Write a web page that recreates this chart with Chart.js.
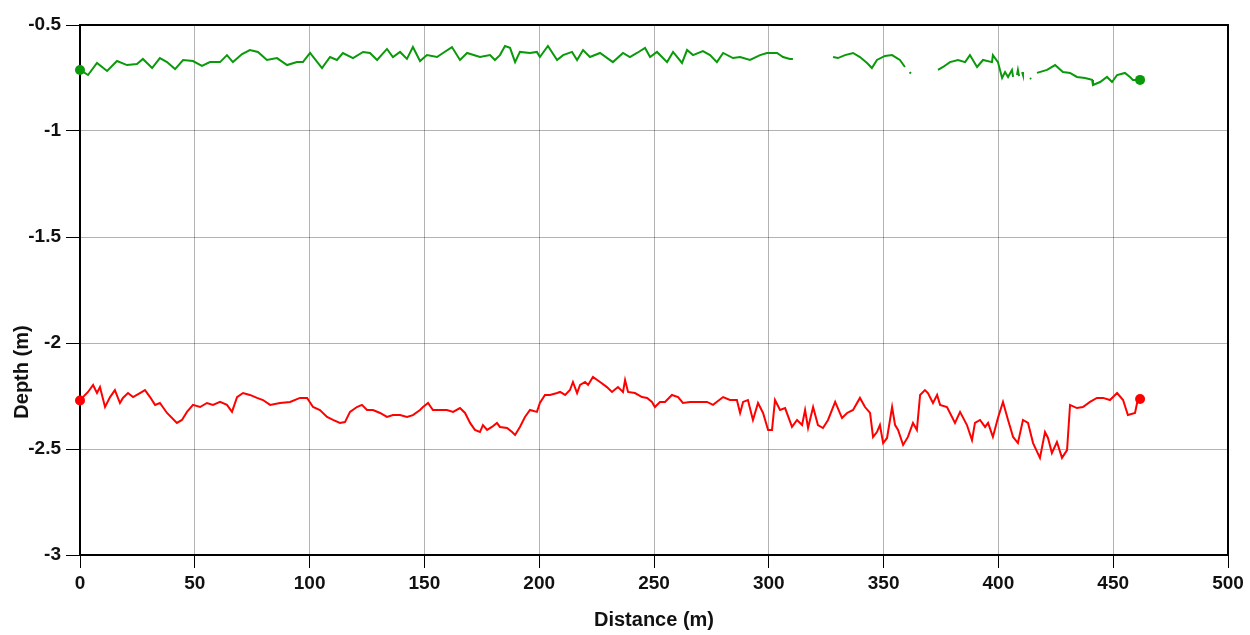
<!DOCTYPE html>
<html>
<head>
<meta charset="utf-8">
<script src="https://cdn.jsdelivr.net/npm/chart.js@4.4.1/dist/chart.umd.min.js"></script>
<style>
  html, body { margin: 0; padding: 0; background: #fff; }
  #wrap { width: 1250px; height: 635px; }
</style>
</head>
<body>
<div id="wrap"><canvas id="depthChart" width="1250" height="635"></canvas></div>
<script>
// axis ticks
const xTicks = [0, 50, 100, 150, 200, 250, 300, 350, 400, 450, 500];
const yTicks = [-3, -2.5, -2, -1.5, -1, -0.5];

// green profile (null = no data)
const greenDist = [0, 3.5, 7.4, 11.8, 16.1, 20.5, 24.8, 27.4, 31.4, 34.8, 37.9, 41.4, 44.9, 49.2, 53.1, 56.6, 61.0, 64.0, 66.6, 70.6,
  74.0, 77.5, 81.4, 85.8, 90.2, 94.5, 97.1, 100.2, 105.4, 108.9, 111.9, 114.5, 118.9, 123.3, 126.3, 129.4, 133.7, 136.3, 139.4, 142.4,
  145.0, 148.1, 151.1, 155.5, 158.1, 162.0, 165.5, 168.6, 174.2, 178.6, 180.7, 182.9, 185.1, 187.3, 189.5, 191.6, 196.0, 199.0, 200.3, 203.8,
  207.8, 210.4, 214.3, 216.5, 219.1, 222.1, 226.5, 232.1, 236.5, 239.5, 242.6, 246.1, 248.3, 251.3, 255.7, 258.3, 262.2, 264.4, 267.0, 271.3,
  274.4, 277.4, 280.1, 284.4, 287.5, 291.8, 296.2, 299.2, 303.6, 306.2, 309.2, 310.5, 318,
  328.0, 330.1, 333.2, 336.7, 339.7, 342.8, 344.9, 347.1, 350.6, 353.7, 355.8, 357.1, 359.3, 360.3,
  361.3, 361.9, 368,
  373.7, 375.9, 378.9, 382.4, 385.5, 387.6, 390.7, 393.3, 397.2, 397.6, 399.8, 401.6, 402.9, 404.2, 405.9, 406.4, 407.2,
  408.1, 408.5, 409.0, 409.6,
  410.3, 410.7, 412,
  413.8, 414.2, 414.6,
  415.1, 415.5, 416.1,
  416.8, 421.2, 424.7, 428.1, 431.2, 434.2, 437.7, 440.8, 441.2, 444.3, 447.3, 449.5, 451.7, 455.1, 457.3, 458.6, 461.7];
const greenDepth = [-0.712, -0.736, -0.679, -0.717, -0.670, -0.689, -0.684, -0.660, -0.703, -0.656, -0.675, -0.708, -0.665, -0.670, -0.693, -0.675, -0.675, -0.642, -0.675, -0.637,
  -0.618, -0.627, -0.665, -0.656, -0.689, -0.675, -0.675, -0.632, -0.703, -0.651, -0.665, -0.632, -0.656, -0.627, -0.632, -0.665, -0.613, -0.651, -0.627, -0.660,
  -0.604, -0.670, -0.642, -0.651, -0.632, -0.604, -0.665, -0.632, -0.651, -0.642, -0.665, -0.642, -0.599, -0.608, -0.675, -0.627, -0.632, -0.627, -0.651, -0.599,
  -0.665, -0.642, -0.627, -0.665, -0.618, -0.651, -0.632, -0.675, -0.632, -0.651, -0.632, -0.608, -0.651, -0.627, -0.675, -0.627, -0.679, -0.618, -0.642, -0.623,
  -0.642, -0.675, -0.632, -0.656, -0.651, -0.665, -0.642, -0.632, -0.632, -0.651, -0.660, -0.660, null,
  -0.651, -0.656, -0.642, -0.632, -0.651, -0.679, -0.703, -0.665, -0.646, -0.642, -0.656, -0.665, -0.698, null,
  -0.722, -0.729, null,
  -0.712, -0.698, -0.675, -0.665, -0.675, -0.642, -0.698, -0.665, -0.675, -0.642, -0.675, -0.750, -0.722, -0.745, -0.712, -0.745, null,
  -0.736, -0.712, -0.741, null,
  -0.722, -0.736, null,
  -0.750, -0.755, null,
  -0.774, -0.774, null,
  -0.726, -0.712, -0.689, -0.722, -0.726, -0.745, -0.750, -0.759, -0.783, -0.769, -0.745, -0.769, -0.736, -0.726, -0.745, -0.759, -0.759];

// red profile
const redDist = [0, 2.2, 3.5, 5.7, 7.4, 8.7, 10.9, 13.1, 15.2, 17.4, 18.7, 20.9, 23.1, 26.1, 28.3, 30.5, 32.7, 34.8, 37.9, 42.2,
  44.4, 46.6, 49.2, 52.3, 55.3, 57.9, 61.0, 64.0, 66.2, 68.4, 71.0, 74.0, 77.1, 79.7, 82.8, 87.1, 91.5, 95.8, 98.9, 101.5,
  104.5, 107.6, 110.2, 113.2, 115.4, 117.6, 120.6, 122.8, 125.0, 127.6, 130.7, 133.7, 136.3, 139.4, 142.4, 145.0, 148.1, 149.4, 151.6, 153.7,
  156.8, 159.8, 162.5, 165.5, 167.7, 169.9, 172.0, 174.2, 175.5, 177.3, 179.4, 181.6, 182.9, 186.0, 188.2, 189.5, 191.6, 193.8, 196.0, 199.0,
  200.3, 202.5, 204.7, 207.8, 209.1, 211.3, 213.4, 214.7, 216.5, 217.8, 220.0, 221.3, 223.4, 226.5, 229.5, 231.7, 234.3, 236.5, 237.4, 238.7,
  241.7, 244.8, 247.0, 249.1, 250.4, 252.6, 254.8, 257.8, 260.5, 262.6, 265.7, 268.7, 273.1, 275.7, 280.1, 283.1, 286.1, 287.5, 288.8, 290.9,
  293.1, 295.3, 297.5, 299.7, 301.4, 302.7, 304.9, 307.1, 310.1, 312.3, 314.5, 315.8, 317.1, 319.3, 321.4, 323.6, 325.8, 328.9, 331.9, 334.1,
  336.7, 339.7, 341.9, 344.1, 345.4, 347.1, 348.4, 349.8, 351.5, 353.7, 355.0, 356.3, 358.5, 360.6, 362.8, 364.5, 365.9, 368.0, 369.3, 371.5,
  373.3, 374.6, 377.6, 379.8, 381.1, 383.3, 386.3, 388.5, 389.8, 392.0, 394.2, 395.5, 397.6, 399.8, 402.0, 404.2, 406.4, 408.5, 410.7, 412.9,
  415.1, 418.1, 420.3, 421.6, 423.3, 425.5, 427.7, 429.9, 431.2, 434.2, 436.8, 439.9, 442.9, 445.6, 448.6, 451.7, 454.3, 456.4, 459.5, 460.4, 461.7];
const redDepth = [-2.271, -2.245, -2.231, -2.198, -2.236, -2.208, -2.302, -2.255, -2.222, -2.283, -2.259, -2.236, -2.255, -2.236, -2.222, -2.255, -2.292, -2.283, -2.330, -2.377,
  -2.363, -2.325, -2.292, -2.302, -2.283, -2.292, -2.278, -2.292, -2.325, -2.255, -2.236, -2.245, -2.259, -2.269, -2.292, -2.283, -2.278, -2.259, -2.259, -2.302,
  -2.316, -2.349, -2.363, -2.377, -2.373, -2.325, -2.302, -2.292, -2.316, -2.316, -2.330, -2.349, -2.340, -2.340, -2.349, -2.340, -2.316, -2.302, -2.283, -2.316,
  -2.316, -2.316, -2.325, -2.307, -2.330, -2.377, -2.410, -2.420, -2.387, -2.410, -2.396, -2.377, -2.396, -2.401, -2.420, -2.434, -2.396, -2.349, -2.316, -2.325,
  -2.283, -2.245, -2.245, -2.236, -2.231, -2.245, -2.222, -2.184, -2.236, -2.198, -2.184, -2.198, -2.160, -2.184, -2.208, -2.231, -2.208, -2.231, -2.175, -2.231,
  -2.236, -2.255, -2.259, -2.278, -2.302, -2.278, -2.278, -2.245, -2.255, -2.283, -2.278, -2.278, -2.278, -2.292, -2.255, -2.269, -2.269, -2.330, -2.278, -2.269,
  -2.363, -2.283, -2.330, -2.410, -2.410, -2.269, -2.316, -2.307, -2.396, -2.363, -2.387, -2.316, -2.401, -2.302, -2.387, -2.401, -2.363, -2.278, -2.354, -2.330,
  -2.316, -2.259, -2.302, -2.330, -2.443, -2.420, -2.387, -2.472, -2.448, -2.302, -2.387, -2.410, -2.481, -2.443, -2.377, -2.410, -2.245, -2.222, -2.236, -2.283,
  -2.245, -2.292, -2.302, -2.349, -2.377, -2.325, -2.387, -2.458, -2.377, -2.363, -2.396, -2.377, -2.443, -2.354, -2.278, -2.363, -2.443, -2.472, -2.363, -2.377,
  -2.472, -2.542, -2.420, -2.448, -2.519, -2.467, -2.542, -2.505, -2.292, -2.307, -2.302, -2.278, -2.259, -2.259, -2.269, -2.236, -2.269, -2.340, -2.330, -2.283, -2.264];

const toPoints = (xs, ys) => xs.map((x, i) => ({ x: x, y: ys[i] }));

// dot only on first and last sample
const endDots = (n) => (ctx) => (ctx.dataIndex === 0 || ctx.dataIndex === n - 1) ? 5 : 0;

const fontFamily = '"Liberation Sans", Arial, sans-serif';

// frame around plot + rotated y title
const framePlugin = {
  id: 'frame',
  beforeDatasetsDraw(chart) {
    const { ctx, chartArea: a } = chart;
    ctx.save();
    ctx.strokeStyle = '#000';
    ctx.lineWidth = 2;
    ctx.strokeRect(a.left, a.top, a.right - a.left, a.bottom - a.top);
    ctx.restore();
  },
  afterDraw(chart) {
    const ctx = chart.ctx;
    ctx.save();
    ctx.translate(22, 372);
    ctx.rotate(-Math.PI / 2);
    ctx.font = 'bold 20px ' + fontFamily;
    ctx.fillStyle = '#111';
    ctx.textAlign = 'center';
    ctx.textBaseline = 'middle';
    ctx.fillText('Depth (m)', 0, 0);
    ctx.restore();
  }
};

const ctx = document.getElementById('depthChart').getContext('2d');

new Chart(ctx, {
  type: 'line',
  data: {
    datasets: [
      {
        label: 'Upper',
        data: toPoints(greenDist, greenDepth),
        borderColor: '#0a990a',
        backgroundColor: '#0a990a',
        borderWidth: 2,
        pointRadius: endDots(greenDist.length),
        pointBorderWidth: 0,
        spanGaps: false,
        clip: false,
        tension: 0
      },
      {
        label: 'Lower',
        data: toPoints(redDist, redDepth),
        borderColor: '#ff0000',
        backgroundColor: '#ff0000',
        borderWidth: 2,
        pointRadius: endDots(redDist.length),
        pointBorderWidth: 0,
        spanGaps: false,
        clip: false,
        tension: 0
      }
    ]
  },
  options: {
    responsive: false,
    animation: false,
    layout: { padding: { top: 25, right: 22, left: 0, bottom: 0 } },
    plugins: {
      legend: { display: false },
      tooltip: { enabled: false }
    },
    scales: {
      x: {
        type: 'linear',
        min: 0,
        max: 500,
        afterBuildTicks: (scale) => { scale.ticks = xTicks.map(v => ({ value: v })); },
        afterFit: (scale) => { scale.height = 80; },
        grid: { color: 'rgba(0,0,0,0.3)', lineWidth: 1, tickColor: '#000', tickLength: 13, drawTicks: true },
        border: { display: false },
        ticks: { color: '#111', font: { family: fontFamily, size: 19, weight: 'bold' }, padding: 4, maxRotation: 0, callback: (v) => String(v) },
        title: { display: true, text: 'Distance (m)', color: '#111', font: { family: fontFamily, size: 20, weight: 'bold' }, padding: { top: 0, bottom: 3 } }
      },
      y: {
        type: 'linear',
        min: -3,
        max: -0.5,
        afterBuildTicks: (scale) => { scale.ticks = yTicks.map(v => ({ value: v })); },
        afterFit: (scale) => { scale.width = 80; },
        grid: { color: 'rgba(0,0,0,0.3)', lineWidth: 1, tickColor: '#000', tickLength: 14, drawTicks: true },
        border: { display: false },
        ticks: { color: '#111', font: { family: fontFamily, size: 19, weight: 'bold' }, padding: 5, callback: (v) => String(v) }
      }
    }
  },
  plugins: [framePlugin]
});
</script>
</body>
</html>
